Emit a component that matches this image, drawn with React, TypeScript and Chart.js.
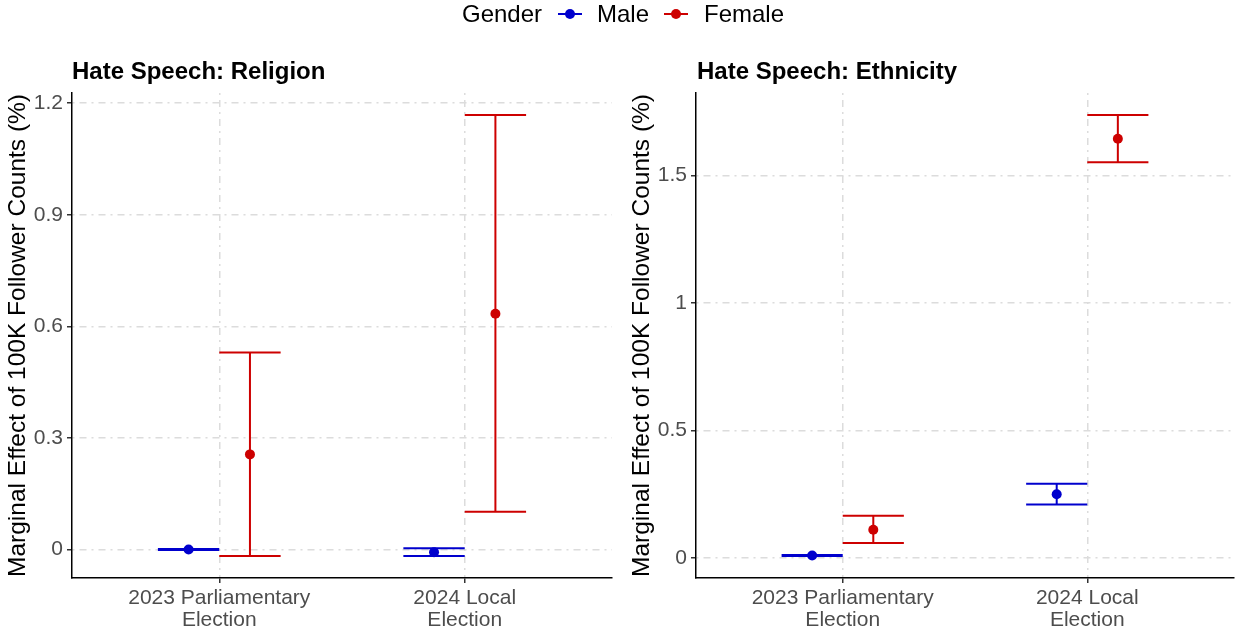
import React, { useEffect, useRef } from 'react';
import { Chart, registerables } from 'chart.js';

Chart.register(...registerables);

// ---------- data ----------
const categories: string[][] = [
  ['2023 Parliamentary', 'Election'],
  ['2024 Local', 'Election'],
];
const genders = ['Male', 'Female'];

const religionMale = [0.0005, -0.007];
const religionMaleLow = [-0.001, -0.017];
const religionMaleHigh = [0.002, 0.004];
const religionFemale = [0.256, 0.634];
const religionFemaleLow = [-0.017, 0.102];
const religionFemaleHigh = [0.53, 1.168];

const ethnicityMale = [0.01, 0.25];
const ethnicityMaleLow = [0.008, 0.21];
const ethnicityMaleHigh = [0.012, 0.291];
const ethnicityFemale = [0.111, 1.643];
const ethnicityFemaleLow = [0.059, 1.551];
const ethnicityFemaleHigh = [0.166, 1.736];

const religionTicks = [0, 0.3, 0.6, 0.9, 1.2];
const religionTickLabels = ['0', '0.3', '0.6', '0.9', '1.2'];
const ethnicityTicks = [0, 0.5, 1, 1.5];
const ethnicityTickLabels = ['0', '0.5', '1', '1.5'];

// ---------- style ----------
const MALE_COLOR = '#0000CD';
const FEMALE_COLOR = '#CD0000';
const FONT = '"Liberation Sans", Arial, Helvetica, sans-serif';
const DODGE = 0.125;
const CAP = 0.125;

function points(values: number[], offset: number) {
  return values.map((v, i) => ({ x: i + 1 + offset, y: v }));
}

function errorSegments(lo: number[], hi: number[], offset: number) {
  const pts: { x: number; y: number | null }[] = [];
  lo.forEach((l, i) => {
    const h = hi[i];
    const x = i + 1 + offset;
    pts.push({ x: x - CAP, y: h }, { x: x + CAP, y: h }, { x, y: null });
    pts.push({ x, y: h }, { x, y: l }, { x, y: null });
    pts.push({ x: x - CAP, y: l }, { x: x + CAP, y: l }, { x, y: null });
  });
  return pts;
}

function expandRange(arrays: number[][]) {
  const all = arrays.flat();
  const lo = Math.min(...all);
  const hi = Math.max(...all);
  const pad = (hi - lo) * 0.05;
  return [lo - pad, hi + pad];
}

interface PanelProps {
  male: number[];
  maleLow: number[];
  maleHigh: number[];
  female: number[];
  femaleLow: number[];
  femaleHigh: number[];
  ticks: number[];
  tickLabels: string[];
  left: number;
  width: number;
  rightPad: number;
}

function Panel(p: PanelProps) {
  const ref = useRef<HTMLCanvasElement | null>(null);
  useEffect(() => {
    if (!ref.current) return;
    const [ymin, ymax] = expandRange([p.male, p.maleLow, p.maleHigh, p.female, p.femaleLow, p.femaleHigh]);
    const chart = new Chart(ref.current, {
      type: 'scatter',
      data: {
        datasets: [
          {
            label: genders[0],
            data: points(p.male, -DODGE),
            backgroundColor: MALE_COLOR,
            borderColor: MALE_COLOR,
            pointRadius: 5,
            pointBorderWidth: 0,
            showLine: false,
          },
          {
            label: genders[1],
            data: points(p.female, DODGE),
            backgroundColor: FEMALE_COLOR,
            borderColor: FEMALE_COLOR,
            pointRadius: 5,
            pointBorderWidth: 0,
            showLine: false,
          },
          {
            label: genders[0] + ' CI',
            data: errorSegments(p.maleLow, p.maleHigh, -DODGE),
            borderColor: MALE_COLOR,
            borderWidth: 2,
            pointRadius: 0,
            showLine: true,
            spanGaps: false,
          },
          {
            label: genders[1] + ' CI',
            data: errorSegments(p.femaleLow, p.femaleHigh, DODGE),
            borderColor: FEMALE_COLOR,
            borderWidth: 2,
            pointRadius: 0,
            showLine: true,
            spanGaps: false,
          },
        ] as any,
      },
      options: {
        animation: false,
        responsive: false,
        events: [],
        layout: { padding: { top: 93, left: 0, right: p.rightPad, bottom: 0 } },
        plugins: {
          legend: { display: false },
          tooltip: { enabled: false },
          title: { display: false },
        },
        scales: {
          x: {
            type: 'linear',
            min: 0.4,
            max: 2.6,
            bounds: 'data',
            afterBuildTicks: (s: any) => {
              s.ticks = categories.map((_, i) => ({ value: i + 1 }));
            },
            afterFit: (s: any) => {
              s.height = 52;
            },
            ticks: {
              autoSkip: false,
              maxRotation: 0,
              padding: 4,
              color: '#4d4d4d',
              font: { family: FONT, size: 21, lineHeight: 22 / 21 },
              callback: (v: any) => categories[Math.round(Number(v)) - 1] || '',
            },
            grid: {
              color: '#dcdcdc',
              lineWidth: 1.5,
              tickColor: '#333333',
              tickLength: 5,
              tickWidth: 1.5,
            },
            border: { display: true, color: '#000000', width: 1.5, dash: [2, 5, 7, 5] },
          },
          y: {
            type: 'linear',
            min: ymin,
            max: ymax,
            afterBuildTicks: (s: any) => {
              s.ticks = p.ticks.map((v) => ({ value: v }));
            },
            afterFit: (s: any) => {
              s.width = 72;
            },
            ticks: {
              autoSkip: false,
              padding: 4,
              color: '#4d4d4d',
              font: { family: FONT, size: 21 },
              callback: (v: any) => {
                const idx = p.ticks.findIndex((t) => Math.abs(t - Number(v)) < 1e-9);
                return idx >= 0 ? p.tickLabels[idx] : '';
              },
            },
            title: {
              display: true,
              text: 'Marginal Effect of 100K Follower Counts (%)',
              color: '#000000',
              font: { family: FONT, size: 24.5 },
              padding: { top: 4, bottom: 0 },
            },
            grid: {
              color: '#dcdcdc',
              lineWidth: 1.5,
              tickColor: '#333333',
              tickLength: 5,
              tickWidth: 1.5,
            },
            border: { display: true, color: '#000000', width: 1.5, dash: [2, 5, 7, 5] },
          },
        },
      } as any,
    });
    return () => chart.destroy();
  }, []);
  return (
    <canvas
      ref={ref}
      width={p.width}
      height={630}
      style={{ position: 'absolute', left: p.left, top: 0, width: p.width, height: 630 }}
    />
  );
}

const textBase: React.CSSProperties = {
  position: 'absolute',
  fontFamily: FONT,
  whiteSpace: 'nowrap',
  lineHeight: '24px',
  margin: 0,
};

function LegendKey({ left, color }: { left: number; color: string }) {
  return (
    <div style={{ position: 'absolute', left, top: 0, width: 24, height: 28 }}>
      <div style={{ position: 'absolute', left: 0, top: 13, width: 24, height: 2, background: color }} />
      <div
        style={{
          position: 'absolute',
          left: 7,
          top: 9,
          width: 10,
          height: 10,
          borderRadius: 5,
          background: color,
        }}
      />
    </div>
  );
}

export default function App() {
  return (
    <div
      style={{
        position: 'absolute',
        left: 0,
        top: 0,
        width: 1239,
        height: 630,
        background: '#ffffff',
        overflow: 'hidden',
      }}
    >
      <Panel
        male={religionMale}
        maleLow={religionMaleLow}
        maleHigh={religionMaleHigh}
        female={religionFemale}
        femaleLow={religionFemaleLow}
        femaleHigh={religionFemaleHigh}
        ticks={religionTicks}
        tickLabels={religionTickLabels}
        left={0}
        width={620}
        rightPad={8}
      />
      <Panel
        male={ethnicityMale}
        maleLow={ethnicityMaleLow}
        maleHigh={ethnicityMaleHigh}
        female={ethnicityFemale}
        femaleLow={ethnicityFemaleLow}
        femaleHigh={ethnicityFemaleHigh}
        ticks={ethnicityTicks}
        tickLabels={ethnicityTickLabels}
        left={624}
        width={615}
        rightPad={3}
      />
      <div style={{ ...textBase, left: 72, top: 59, fontSize: 24, fontWeight: 'bold', color: '#000' }}>
        Hate Speech: Religion
      </div>
      <div style={{ ...textBase, left: 697, top: 59, fontSize: 24, fontWeight: 'bold', color: '#000' }}>
        Hate Speech: Ethnicity
      </div>
      <div style={{ ...textBase, left: 462, top: 2, fontSize: 24, color: '#000' }}>Gender</div>
      <LegendKey left={558} color={MALE_COLOR} />
      <div style={{ ...textBase, left: 597, top: 2, fontSize: 24, color: '#000' }}>{genders[0]}</div>
      <LegendKey left={664} color={FEMALE_COLOR} />
      <div style={{ ...textBase, left: 704, top: 2, fontSize: 24, color: '#000' }}>{genders[1]}</div>
    </div>
  );
}
